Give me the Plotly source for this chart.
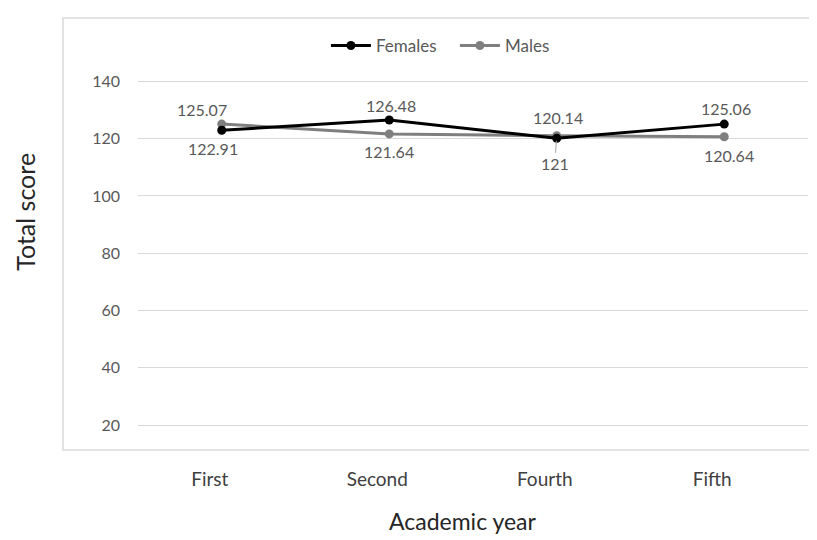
import plotly.graph_objects as go

years = ["First", "Second", "Fourth", "Fifth"]
females = [122.91, 126.48, 120.14, 125.06]
males = [125.07, 121.64, 121.0, 120.64]
female_labels = ["122.91", "126.48", "120.14", "125.06"]
male_labels = ["125.07", "121.64", "121", "120.64"]
y_ticks = [20, 40, 60, 80, 100, 120, 140]

FONT = "Lato, Open Sans, sans-serif"
TXT = "#595959"

fig = go.Figure()
fig.add_trace(go.Scatter(x=years, y=males, name="Males", mode="lines+markers",
                         line=dict(color="#7f7f7f", width=3),
                         marker=dict(size=9, color="#7f7f7f")))
fig.add_trace(go.Scatter(x=years, y=females, name="Females", mode="lines+markers",
                         line=dict(color="#000000", width=3),
                         marker=dict(size=9, color="#000000")))

# data-label nudges (pixels) relative to each point
f_dx = [-9, 2, 1, 2]
f_dy = [-18, 15, 21, 16]
m_dx = [-20, 0, -2, 5]
m_dy = [15, -18, 0, -19]
anns = []
for i, yr in enumerate(years):
    for val, lab, dx, dy in ((females[i], female_labels[i], f_dx[i], f_dy[i]),
                             (males[i], male_labels[i], m_dx[i], m_dy[i])):
        if lab == "121":
            anns.append(dict(x=yr, y=val, text=lab, showarrow=True, arrowhead=0,
                             arrowwidth=1, arrowcolor="#a6a6a6", ax=dx, ay=28,
                             standoff=5, font=dict(family=FONT, size=16, color=TXT)))
            continue
        anns.append(dict(x=yr, y=val, text=lab, showarrow=False, xshift=dx,
                         yshift=dy, yanchor="middle",
                         font=dict(family=FONT, size=16, color=TXT)))

anns.append(dict(text="Total score", xref="paper", yref="paper", x=0, y=0.622,
                 xshift=-113, textangle=-90, showarrow=False,
                 xanchor="center", yanchor="middle",
                 font=dict(family=FONT, size=25, color="#262626")))
anns.append(dict(text="Academic year", xref="paper", yref="paper", x=0.485, y=0,
                 yshift=-71, showarrow=False, xanchor="center", yanchor="middle",
                 font=dict(family=FONT, size=23, color="#262626")))

fig.update_layout(
    width=817, height=540,
    margin=dict(l=130, r=17, t=59, b=98),
    paper_bgcolor="white", plot_bgcolor="white",
    font=dict(family=FONT, color=TXT),
    showlegend=True,
    legend=dict(orientation="h", x=0.473, y=1.055, xanchor="center", yanchor="middle",
                traceorder="reversed", entrywidth=74, itemwidth=40,
                font=dict(family=FONT, size=17, color=TXT)),
    annotations=anns,
    shapes=[dict(type="rect", xref="paper", yref="paper", x0=-0.112, x1=1.03,
                 y0=0, y1=1.128, line=dict(color="#d9d9d9", width=1.5))],
)
fig.update_yaxes(range=[11.3, 145], tickvals=y_ticks, showgrid=True, gridcolor="#d9d9d9",
                 gridwidth=1, zeroline=False, showline=False,
                 tickfont=dict(family=FONT, size=16, color=TXT), ticklabelstandoff=17)
fig.update_xaxes(range=[-0.5, 3.5], showgrid=False, zeroline=False, showline=False,
                 tickfont=dict(family=FONT, size=19, color="#404040"),
                 ticklabelshift=-12, ticklabelstandoff=16)

fig.write_html("out.html")
